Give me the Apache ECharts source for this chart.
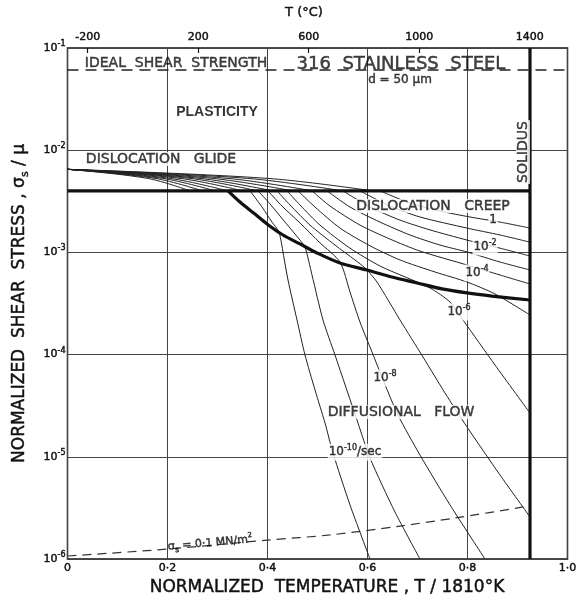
<!DOCTYPE html>
<html><head><meta charset="utf-8">
<script src="https://cdn.jsdelivr.net/npm/echarts@6/dist/echarts.min.js"></script>
<style>html,body{margin:0;padding:0;background:#fff}#c{width:582px;height:600px}</style>
</head><body><div id="c"></div>
<script>
// ---------- data ----------
const xTicks = [0, 0.2, 0.4, 0.6, 0.8, 1.0];
const topTicksC = [-200, 200, 600, 1000, 1400];
const meltK = 1810;
const idealStrength = [[0, 0.061], [1, 0.061]];
const solidus = [[0.925, 1e-6], [0.925, 1e-1]];
const glideCreepBoundary = [[0, 4.0e-3], [0.925, 4.0e-3]];
const creepDiffBoundary = [[0.321,4.0e-3],[0.345,3.11e-3],[0.375,2.37e-3],[0.399,1.90e-3],[0.431,1.48e-3],[0.465,1.21e-3],[0.499,9.87e-4],[0.545,7.87e-4],[0.599,6.73e-4],[0.649,5.74e-4],[0.699,5.02e-4],[0.749,4.39e-4],[0.799,4.01e-4],[0.849,3.74e-4],[0.925,3.42e-4]];
const stress01MN = [[0,1.07e-6],[0.2,1.25e-6],[0.4,1.53e-6],[0.525,1.72e-6],[0.665,2.10e-6],[0.775,2.52e-6],[0.911,3.23e-6],[0.925,3.38e-6]];

// glide-field parts of the strain-rate contours (1 ... 1e-10 /s)
const glide0  = [[0,6.5e-3],[0.40,5.3e-3],[0.61,4.0e-3]];
const glide1  = [[0,6.5e-3],[0.36,5.3e-3],[0.55,4.0e-3]];
const glide2  = [[0,6.5e-3],[0.32,5.3e-3],[0.49,4.0e-3]];
const glide3  = [[0,6.5e-3],[0.29,5.3e-3],[0.45,4.0e-3]];
const glide4  = [[0,6.5e-3],[0.265,5.3e-3],[0.41,4.0e-3]];
const glide5  = [[0,6.5e-3],[0.245,5.3e-3],[0.38,4.0e-3]];
const glide6  = [[0,6.5e-3],[0.225,5.3e-3],[0.35,4.0e-3]];
const glide7  = [[0,6.5e-3],[0.205,5.3e-3],[0.32,4.0e-3]];
const glide8  = [[0,6.5e-3],[0.19,5.3e-3],[0.295,4.0e-3]];
const glide9  = [[0,6.5e-3],[0.175,5.3e-3],[0.27,4.0e-3]];
const glide10 = [[0,6.5e-3],[0.16,5.3e-3],[0.245,4.0e-3]];

// creep / diffusional-flow parts of the same contours
const flow0  = [[0.625,4.0e-3],[0.685,3.04e-3],[0.745,2.54e-3],[0.805,2.22e-3],[0.865,1.98e-3],[0.925,1.73e-3]];
const flow1  = [[0.585,4.0e-3],[0.645,2.84e-3],[0.705,2.22e-3],[0.799,1.73e-3],[0.865,1.48e-3],[0.925,1.26e-3]];
const flow2  = [[0.551,4.0e-3],[0.605,2.78e-3],[0.665,2.07e-3],[0.725,1.66e-3],[0.799,1.32e-3],[0.865,1.10e-3],[0.925,9.22e-4]];
const flow3  = [[0.519,4.0e-3],[0.565,2.78e-3],[0.625,1.98e-3],[0.685,1.48e-3],[0.745,1.18e-3],[0.799,1.01e-3],[0.865,8.05e-4],[0.925,6.73e-4]];
const flow4  = [[0.489,4.0e-3],[0.525,2.84e-3],[0.585,1.85e-3],[0.645,1.35e-3],[0.705,1.03e-3],[0.799,7.53e-4],[0.865,6.01e-4],[0.925,4.91e-4]];
const flow5  = [[0.461,4.0e-3],[0.495,2.78e-3],[0.545,1.73e-3],[0.605,1.16e-3],[0.665,8.43e-4],[0.735,6.43e-4],[0.799,5.13e-4],[0.855,3.92e-4],[0.925,2.44e-4]];
const flow6  = [[0.439,4.0e-3],[0.465,2.91e-3],[0.505,1.85e-3],[0.565,1.10e-3],[0.625,7.36e-4],[0.685,5.49e-4],[0.725,4.49e-4],[0.765,3.27e-4],[0.791,2.18e-4],[0.855,7.91e-5],[0.925,2.68e-5]];
const flow7  = [[0.419,4.0e-3],[0.445,2.91e-3],[0.485,1.85e-3],[0.535,1.18e-3],[0.575,8.43e-4],[0.595,7.04e-4],[0.619,5.13e-4],[0.665,2.18e-4],[0.711,9.47e-5],[0.755,4.21e-5],[0.799,1.96e-5],[0.865,6.64e-6],[0.925,2.58e-6]];
const flow8  = [[0.401,4.0e-3],[0.429,2.84e-3],[0.465,1.94e-3],[0.505,1.24e-3],[0.545,8.05e-4],[0.565,4.10e-4],[0.585,2.08e-4],[0.609,1.06e-4],[0.633,5.39e-5],[0.661,2.56e-5],[0.705,1.04e-5],[0.765,3.38e-6],[0.835,1.0e-6]];
const flow9  = [[0.381,4.0e-3],[0.405,2.98e-3],[0.435,1.98e-3],[0.465,1.32e-3],[0.475,1.13e-3],[0.489,6.01e-4],[0.511,2.18e-4],[0.535,9.91e-5],[0.581,2.14e-5],[0.605,9.73e-6],[0.655,2.88e-6],[0.705,1.0e-6]];
const flow10 = [[0.365,4.0e-3],[0.389,2.78e-3],[0.409,1.98e-3],[0.423,1.58e-3],[0.433,8.81e-4],[0.441,5.37e-4],[0.459,2.18e-4],[0.475,9.91e-5],[0.495,4.51e-5],[0.515,2.14e-5],[0.531,1.09e-5],[0.565,3.38e-6],[0.605,1.0e-6]];

// text annotations
const regionText = ['PLASTICITY','DISLOCATION   GLIDE','DISLOCATION   CREEP','DIFFUSIONAL   FLOW','IDEAL  SHEAR  STRENGTH','316  STAINLESS  STEEL','d = 50 μm','SOLIDUS'];
const regionAt = [[0.299,2.36e-2],[0.187,8.2e-3],[0.731,2.84e-3],[0.667,2.74e-5],[0.217,7.13e-2],[0.667,7.0e-2],[0.665,4.86e-2],[0.911,9.6e-3]];
const rateText = ['1','10^-2','10^-4','10^-6','10^-8','10^-10/sec'];
const rateAt = [[0.851,2.07e-3],[0.835,1.13e-3],[0.819,6.29e-4],[0.783,2.61e-4],[0.635,5.9e-5],[0.575,1.11e-5]];
const stressLabelAt = [0.285, 1.43e-6];

// ---------- chart ----------
const F = "'DejaVu Sans', sans-serif";
const INK = '#111';
const BOLDEN = {textBorderColor: '#111', textBorderWidth: 0.45};
function supText(t) {
  const m = /^(\d+)\^(-?\d+)(.*)$/.exec(t);
  if (!m) return '{b|' + t + '}';
  return '{b|' + m[1] + '}{s|' + m[2] + '}' + (m[3] ? '{b|' + m[3] + '}' : '');
}
function supRich(bs, ss) {
  return {
    b: Object.assign({fontSize: bs, lineHeight: bs + 5, fontFamily: F, color: INK}, BOLDEN),
    s: Object.assign({fontSize: ss, lineHeight: ss, verticalAlign: 'top', fontFamily: F, color: INK}, BOLDEN)
  };
}

const glideLines = [glide0,glide1,glide2,glide3,glide4,glide5,glide6,glide7,glide8,glide9,glide10];
const flowLines = [flow0,flow1,flow2,flow3,flow4,flow5,flow6,flow7,flow8,flow9,flow10];
const thin = {color: '#222', width: 1};
const thick = {color: '#111', width: 3.2};
const series = [];
glideLines.forEach(d => series.push({type:'line', data:d, symbol:'none', smooth:0.35, lineStyle:thin, silent:true, z:3, animation:false}));
flowLines.forEach(d => series.push({type:'line', data:d, symbol:'none', smooth:0.25, lineStyle:thin, silent:true, z:3, animation:false}));
series.push({type:'line', data:glideCreepBoundary, symbol:'none', lineStyle:thick, silent:true, z:4, animation:false});
series.push({type:'line', data:creepDiffBoundary, symbol:'none', smooth:0.3, lineStyle:thick, silent:true, z:4, animation:false});
series.push({type:'line', data:solidus, symbol:'none', lineStyle:thick, silent:true, z:4, animation:false});
series.push({type:'line', data:idealStrength, symbol:'none', lineStyle:{color:'#222', width:1.4, type:[11,7]}, silent:true, z:2, animation:false});
series.push({type:'line', data:stress01MN, symbol:'none', smooth:0.3, lineStyle:{color:'#333', width:1.2, type:[9,6]}, silent:true, z:2, animation:false});

const regionStyle = [
  {fontFamily:"'Liberation Sans', Arial, sans-serif", fontSize:14, fontWeight:'bold', color:'#000', textBorderWidth:0},
  {fontSize:14, backgroundColor:'#fff'},
  {fontSize:14, backgroundColor:'#fff'},
  {fontSize:14, backgroundColor:'#fff'},
  {fontSize:14},
  {fontSize:18},
  {fontSize:12},
  {fontSize:14, rotate:90, backgroundColor:'#fff'}
];
const labelData = [];
regionText.forEach((t, i) => {
  labelData.push({value: regionAt[i], label: Object.assign({show:true, position:'inside', formatter:t, fontFamily:F, color:INK, padding:[0,1]}, BOLDEN, regionStyle[i])});
});
rateText.forEach((t, i) => {
  labelData.push({value: rateAt[i], label: {show:true, position:'inside', formatter: supText(t), rich: supRich(12, 8), backgroundColor:'#fff', padding:[0,1]}});
});
const gS = Object.assign({fontSize:11, fontFamily:F, color:INK, lineHeight:16}, BOLDEN);
labelData.push({value: stressLabelAt, label: {show:true, position:'inside', rotate:5, formatter:'{g|σ}{u|s}{g| = 0·1 MN/m}{p|2}',
  rich: {g:gS, u:Object.assign({}, gS, {fontSize:8, lineHeight:8, verticalAlign:'bottom'}), p:Object.assign({}, gS, {fontSize:7, lineHeight:7, verticalAlign:'top'})}}});
series.push({type:'scatter', data:labelData, symbolSize:1, itemStyle:{color:'rgba(0,0,0,0)'}, silent:true, z:10, animation:false, emphasis:{disabled:true}, clip:false});

const chart = echarts.init(document.getElementById('c'), null, {renderer:'canvas'});
chart.setOption({
  animation: false,
  backgroundColor: '#fff',
  grid: {left: 67.5, right: 14.5, top: 48, bottom: 41, show: true, borderColor: '#111', borderWidth: 1.5, containLabel: false, outerBoundsMode: 'none'},
  xAxis: [{
    type: 'value', min: 0, max: 1, interval: 0.2, position: 'bottom',
    axisLine: {show: false}, axisTick: {show: false},
    splitLine: {show: true, lineStyle: {color: '#444', width: 1}},
    axisLabel: Object.assign({fontFamily: F, fontSize: 11, color: INK, margin: 4,
      formatter: v => xTicks.indexOf(+v.toFixed(1)) === 0 ? '0' : v.toFixed(1).replace('.', '·')}, BOLDEN),
    name: 'NORMALIZED  TEMPERATURE , T / 1810°K', nameLocation: 'middle', nameGap: 20,
    nameTextStyle: Object.assign({fontFamily: F, fontSize: 17, color: INK, padding: [0, 0, 0, 19]}, BOLDEN)
  }, {
    type: 'value', min: -273, max: meltK - 273, position: 'top',
    axisLine: {show: false},
    axisTick: {show: true, inside: true, length: 5, customValues: topTicksC, lineStyle: {color: '#111', width: 1.2}},
    axisLabel: Object.assign({fontFamily: F, fontSize: 11, color: INK, margin: 5, customValues: topTicksC, formatter: v => String(v)}, BOLDEN),
    splitLine: {show: false},
    name: 'T (°C)', nameLocation: 'middle', nameGap: 29,
    nameTextStyle: Object.assign({fontFamily: F, fontSize: 13, color: INK, padding: [0, 27, 0, 0]}, BOLDEN)
  }],
  yAxis: {
    type: 'log', logBase: 10, min: 1e-6, max: 1e-1,
    axisLine: {show: false}, axisTick: {show: false},
    splitLine: {show: true, lineStyle: {color: '#444', width: 1}},
    axisLabel: {margin: 2, formatter: v => supText('10^' + Math.round(Math.log10(v))), rich: supRich(11, 8)},
    name: '{t|NORMALIZED  SHEAR  STRESS , σ}{u|s}{t| / μ}', nameLocation: 'middle', nameGap: 37, nameRotate: 90,
    nameTextStyle: {rich: {t: Object.assign({fontFamily: F, fontSize: 17, color: INK, lineHeight: 22}, BOLDEN), u: Object.assign({fontFamily: F, fontSize: 11, color: INK, lineHeight: 10, verticalAlign: 'bottom'}, BOLDEN)}}
  },
  series: series
});
</script></body></html>
